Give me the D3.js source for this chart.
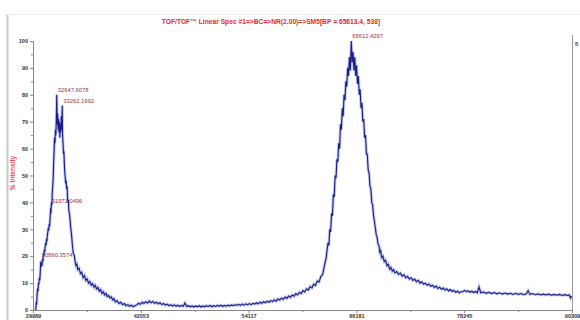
<!DOCTYPE html>
<html><head><meta charset="utf-8">
<script src="https://cdn.jsdelivr.net/npm/d3@7"></script>
<style>body{margin:0;background:#fff}svg{display:block}text{font-family:"Liberation Sans",Arial,sans-serif}</style>
</head><body><svg id="c" width="580" height="320"></svg>
<script>
const title = "TOF/TOF\u2122 Linear Spec #1=>BC=>NR(2.00)=>SM5[BP = 65613.4, 538]";
const yLabel = "% Intensity";
const xTickLabels = [29989, 42053, 54117, 66181, 78245, 90309];
const yTickLabels = [0,10,20,30,40,50,60,70,80,90,100];
const peakMass = [32647.6078, 33262.1992, 31971.0496, 30860.3574, 65612.4297];
const peakLabelY = [80, 76, 38.5, 18.5, 100];
const rightLabel = "5";

const mass = [30300,30350,30400,30450,30500,30550,30600,30650,30700,30750,30800,30860,30900,30950,31000,31050,31100,31150,31200,31250,31300,31350,31400,31450,31500,31550,31600,31650,31700,31750,31800,31850,31900,31971,32000,32050,32100,32150,32200,32250,32300,32350,32400,32450,32500,32550,32600,32647,32700,32750,32800,32850,32900,32950,33000,33050,33100,33150,33200,33262,33300,33350,33400,33450,33500,33550,33600,33650,33700,33750,33800,33850,33900,33950,34000,34100,34200,34300,34400,34500,34600,34700,34800,34900,35000,35150,35300,35450,35600,35750,35900,36050,36200,36350,36500,36650,36800,36950,37100,37250,37400,37550,37700,37850,38000,38150,38300,38450,38600,38750,38900,39050,39200,39400,39600,39800,40000,40200,40400,40600,40800,41000,41200,41400,41600,41800,42000,42200,42400,42600,42800,43000,43200,43400,43600,43800,44000,44200,44400,44600,44800,45000,45200,45400,45600,45800,46000,46200,46400,46600,46800,47000,47200,47400,47600,47800,48000,48200,48400,48600,48800,49000,49200,49400,49600,49800,50000,50200,50400,50600,50800,51000,51200,51400,51600,51800,52000,52200,52400,52600,52800,53000,53200,53400,53600,53800,54000,54200,54400,54600,54800,55000,55200,55400,55600,55800,56000,56200,56400,56600,56800,57000,57200,57400,57600,57800,58000,58200,58400,58600,58800,59000,59200,59400,59600,59800,60000,60200,60400,60600,60800,61000,61200,61400,61600,61800,62000,62200,62400,62600,62800,63000,63100,63200,63300,63400,63500,63600,63700,63800,63900,64000,64100,64200,64300,64400,64500,64600,64700,64800,64900,65000,65100,65200,65300,65400,65500,65612,65700,65800,65900,66000,66100,66200,66300,66400,66500,66600,66700,66800,66900,67000,67100,67200,67300,67400,67500,67600,67700,67800,67900,68000,68100,68200,68300,68400,68500,68600,68700,68800,68900,69000,69150,69300,69450,69600,69750,69900,70050,70200,70350,70500,70700,70900,71100,71300,71500,71700,71900,72100,72300,72500,72700,72900,73100,73300,73500,73700,73900,74100,74300,74500,74700,74900,75100,75300,75500,75700,75900,76100,76300,76500,76700,76900,77100,77300,77500,77700,77900,78100,78300,78500,78700,78900,79100,79300,79500,79700,79900,80100,80400,80700,81000,81300,81600,81900,82200,82500,82800,83100,83400,83700,84000,84300,84600,84900,85200,85400,85600,85900,86200,86500,86800,87100,87400,87700,88000,88300,88600,88900,89200,89500,89800,90000,90150,90250];

const intensity = [0,3,2,6,8,7,10,9.5,12,11,14,18,16,17.5,16.5,19,18,21,20,22.5,21.5,23.5,25,24,26.5,25.5,28,29,30.5,29.5,32,31,34,38,36,40,39,44,46,49,55,59,64,62,67,65,71,80,69,73,67,71,66,70,64,69,66,72,67,76,65,62,58,59,54,51,49,47,48,45,46,42,40,41,37,35,31,28,24,21,20.5,18,16.5,17,15,15.5,13.5,14,12,12.8,11,11.6,10,10.6,9.2,9.8,8.5,9.2,7.8,8.4,7,7.6,6.2,6.8,5.6,6.2,5,5.4,4.5,4.9,3.8,4.2,3,3.5,2.4,2.9,2,2.4,1.6,2,1.4,1.8,1.2,1.6,1.9,2.5,2.1,2.9,2.4,3.1,2.6,3.3,2.7,3.2,2.5,2.9,2.3,2.7,2,2.4,1.8,2.2,1.6,2,1.5,1.9,1.4,1.8,1.3,1.7,1.4,2.6,1.3,1.6,1.2,1.5,1.1,1.5,1.2,1.6,1.1,1.5,1.2,1.6,1.3,1.7,1.2,1.6,1.3,1.7,1.4,1.8,1.3,1.7,1.4,1.8,1.5,1.9,1.6,2,1.7,2.1,1.7,2.2,1.8,2.3,1.9,2.4,2,2.5,2.2,2.7,2.3,2.9,2.5,3.1,2.7,3.3,2.9,3.5,3.1,3.8,3.3,4.1,3.7,4.4,4,4.8,4.3,5.2,4.7,5.6,5.1,6.1,5.6,6.6,6.1,7.2,6.7,7.9,7.4,8.7,8.2,9.6,9.1,10.8,10.4,12.4,13.2,16.5,19.5,25,24,30,29,36,35,43,42,50,49,56,55,62,60,69,67,75,72,80,78,85,83,90,87,94,89,100,92,96,89,94,87,91,84,87,80,82,75,77,70,71,64,65,58,58,52,51,46,45,40,39,35,33,30.5,28,27,24.5,24,21.5,22,19.5,20,18,18.5,16.5,17,15.2,15.8,14.4,15,13.8,14.3,13.2,13.7,12.6,13.1,12,12.5,11.5,12,11,11.5,10.5,11,10,10.5,9.6,10,9.2,9.7,8.8,9.2,8.4,8.9,8,8.5,7.7,8.2,7.4,7.9,7.1,7.6,6.9,7.3,6.6,7,6.4,6.8,6.9,7.3,6.8,7.1,6.6,7,6.5,6.9,6.4,8.6,6.4,6.7,6.2,6.6,6.1,6.5,6,6.4,5.9,6.3,5.9,6.2,5.8,6.2,5.8,6.1,5.7,6,7.2,5.8,6.1,5.7,6,5.6,5.9,5.6,5.9,5.5,5.8,5.5,5.8,5.4,5.7,5.4,5.6,4.4,5.2];

const svg = d3.select("#c");
const x = d3.scaleLinear().domain([29989, 90309]).range([33, 572]);
const y = d3.scaleLinear().domain([0, 100]).range([310, 41]);

// frame
svg.append("line").attr("x1",7.5).attr("x2",7.5).attr("y1",14).attr("y2",320).attr("stroke","#c8c8c8").attr("stroke-width",2);
svg.append("line").attr("x1",7).attr("x2",580).attr("y1",14.5).attr("y2",14.5).attr("stroke","#eeeeee").attr("stroke-width",1);

// title
svg.append("text").attr("x",271).attr("y",24).attr("text-anchor","middle")
  .attr("font-size",6.7).attr("font-weight","bold").attr("fill","#e8262b").text(title);

// y label
svg.append("text").attr("transform","translate(15,173) rotate(-90)").attr("text-anchor","middle")
  .attr("font-size",6.5).attr("font-weight","bold").attr("fill","#e84a5a").text(yLabel);

// axes
const yAxis = d3.axisLeft(y).tickValues(yTickLabels).tickSize(3).tickPadding(2).tickFormat(d3.format("d"));
const gy = svg.append("g").attr("transform","translate(33,0)").call(yAxis);
gy.select(".domain").attr("stroke","#888").attr("d","M0.5,41V310.5");
gy.selectAll(".tick line").attr("stroke","#888");
gy.selectAll("text").attr("font-size",5.5).attr("font-weight","bold").attr("fill","#333").attr("font-family","Liberation Sans, Arial");
const yMinor = d3.axisLeft(y).tickValues([5,15,25,35,45,55,65,75,85,95]).tickSize(2).tickFormat("");
const gym = svg.append("g").attr("transform","translate(33,0)").call(yMinor);
gym.select(".domain").remove();
gym.selectAll(".tick line").attr("stroke","#888");

const xAxis = d3.axisBottom(x).tickValues(xTickLabels).tickSize(3).tickPadding(1).tickFormat(d3.format("d"));
const gx = svg.append("g").attr("transform","translate(0,310)").call(xAxis);
gx.select(".domain").attr("stroke","#888").attr("d","M33,0.5H572");
gx.selectAll(".tick line").attr("stroke","#888");
gx.selectAll("text").attr("font-size",5.5).attr("font-weight","bold").attr("fill","#333").attr("font-family","Liberation Sans, Arial");
const xMinorVals = xTickLabels.slice(0,-1).map((v,i)=> (v + xTickLabels[i+1])/2);
const gxm = svg.append("g").attr("transform","translate(0,310)").call(d3.axisBottom(x).tickValues(xMinorVals).tickSize(2).tickFormat(""));
gxm.select(".domain").remove();
gxm.selectAll(".tick line").attr("stroke","#888");

// right axis
svg.append("line").attr("x1",572.5).attr("x2",572.5).attr("y1",35).attr("y2",310).attr("stroke","#999").attr("stroke-width",1);
svg.append("text").attr("x",575).attr("y",46).attr("font-size",6).attr("font-weight","bold").attr("fill","#333").text(rightLabel);

// spectrum
const data = mass.map((m,i)=>[m,intensity[i]]);
const line = d3.line().x(d=>x(d[0])).y(d=>y(d[1]));
svg.append("path").datum(data).attr("d",line).attr("fill","none").attr("stroke","#8a95d2").attr("stroke-width",3).attr("stroke-opacity",0.5);
svg.append("path").datum(data).attr("d",line).attr("fill","none").attr("stroke","#1a1c8c").attr("stroke-width",1.1);

// peak labels
svg.append("g").selectAll("text").data(peakMass).join("text")
  .attr("x",d=>x(d)+1).attr("y",(d,i)=>y(peakLabelY[i])-3)
  .attr("font-size",5.8).attr("fill","#a0333a").text(d=>d.toFixed(4));
</script></body></html>
